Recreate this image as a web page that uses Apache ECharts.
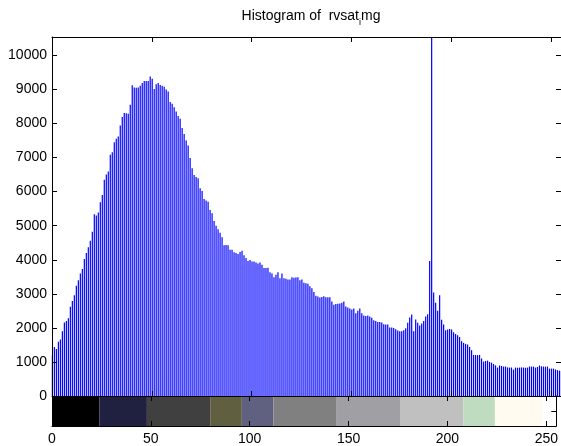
<!DOCTYPE html>
<html>
<head>
<meta charset="utf-8">
<script src="https://cdn.jsdelivr.net/npm/echarts@6/dist/echarts.min.js"></script>
<style>
  html, body { margin: 0; padding: 0; background: #fff; }
  #main { width: 561px; height: 446px; }
</style>
</head>
<body>
<div id="main"></div>
<script>
// histogram counts for grey levels 0..255
var counts = [
  1200,1440,1380,1590,1660,1900,2160,2200,2280,2620,2790,2960,3235,3400,3600,3730,
  4020,4200,4365,4560,4820,5335,5300,5390,5690,5900,6350,6500,6590,7080,7160,7450,
  7550,7620,7940,8190,8310,8300,8285,8550,9120,9060,9050,9060,9110,9190,9250,9250,
  9250,9380,9315,9010,9150,9190,9130,9110,9080,9000,8940,8630,8580,8480,8350,8220,
  8140,7865,7690,7500,7355,6990,6690,6490,6430,6390,6100,6020,5785,5740,5705,5460,
  5365,5140,5000,4895,4795,4660,4425,4430,4425,4295,4295,4220,4200,4170,4225,4265,
  4130,4050,3960,3990,3950,3950,3920,3890,3920,3855,3755,3760,3765,3630,3600,3490,
  3560,3630,3460,3600,3460,3440,3420,3420,3490,3470,3480,3490,3395,3420,3325,3310,
  3295,3225,3160,3050,2940,2920,2895,2910,2930,2900,2900,2900,2775,2680,2700,2710,
  2715,2735,2775,2630,2600,2570,2540,2570,2430,2500,2570,2430,2365,2350,2365,2335,
  2295,2225,2200,2170,2170,2160,2110,2100,2100,2010,2010,2000,1960,1920,1900,1900,
  1930,1990,2150,2305,2395,1900,2245,2150,2070,2130,2205,2335,2400,3960,12000,3040,
  2735,2500,2960,2235,2100,1930,1950,1970,1950,1870,1820,1780,1735,1610,1560,1530,
  1510,1440,1345,1205,1205,1200,1205,1100,1010,1030,1040,1000,980,940,900,835,
  895,880,865,865,840,835,835,775,835,830,835,840,835,830,835,865,
  865,865,835,850,895,870,865,860,865,805,805,805,780,760,745,735
];

// colormap strip under the histogram
var cbStart = [0, 24, 48, 80, 96, 112, 144, 176, 208, 224, 248];
var cbEnd   = [24, 48, 80, 96, 112, 144, 176, 208, 224, 248, 255];
var cbColor = ['#000000','#202040','#404040','#606040','#606080','#808080',
               '#a0a0a4','#c0c0c0','#c0dcc0','#fffbf0','#ffffff'];

var titleText = '{a|Histogram of  rvsat}{s|i}{a|mg}';

var font = 'Liberation Sans, Arial, sans-serif';
var myChart = echarts.init(document.getElementById('main'));

var barData = counts.map(function (c, i) { return [i, c]; });
var cbData = cbStart.map(function (s, i) { return [s, cbEnd[i], i]; });

// onZero off, otherwise the extra axes get pulled onto the zero line
function line(show) { return { show: show !== false, onZero: false, lineStyle: { color: '#000', width: 1 } }; }
function tick() { return { show: true, inside: true, length: 5, lineStyle: { color: '#000', width: 1 } }; }
function noLabel() { return { show: false }; }

var option = {
  animation: false,
  title: {
    text: titleText,
    left: 306,
    textAlign: 'center',
    top: 1,
    textStyle: {
      fontWeight: 'normal',
      rich: {
        a: { fontSize: 14, fontFamily: font, fontWeight: 'normal', color: '#000', lineHeight: 17, verticalAlign: 'middle' },
        s: { fontSize: 9, fontFamily: font, fontWeight: 'normal', color: '#000', lineHeight: 21, verticalAlign: 'bottom' }
      }
    }
  },
  grid: [
    { left: 52, right: -1, top: 37, height: 359 },
    { left: 52, right: -1, top: 396, height: 30 }
  ],
  xAxis: [
    { gridIndex: 0, type: 'value', min: 0, max: 255, interval: 50, position: 'bottom', z: 10,
      axisLine: line(false), axisTick: tick(), axisLabel: noLabel(), splitLine: { show: false } },
    { gridIndex: 0, type: 'value', min: 0, max: 255, interval: 50, position: 'top', z: 10,
      axisLine: line(), axisTick: tick(), axisLabel: noLabel(), splitLine: { show: false } },
    { gridIndex: 1, type: 'value', min: 0, max: 255, interval: 50, position: 'bottom', z: 10,
      axisLine: line(), axisTick: tick(), splitLine: { show: false },
      axisLabel: { margin: 6, fontSize: 14, fontFamily: font, color: '#000',
        formatter: function (v) { return v % 50 === 0 ? String(v) : ''; } } },
    { gridIndex: 1, type: 'value', min: 0, max: 255, interval: 50, position: 'top', z: 10,
      axisLine: line(), axisTick: tick(), axisLabel: noLabel(), splitLine: { show: false } }
  ],
  yAxis: [
    { gridIndex: 0, type: 'value', min: 0, max: 10540, interval: 1000, position: 'left', z: 10,
      axisLine: line(), axisTick: tick(), splitLine: { show: false },
      axisLabel: { margin: 5, fontSize: 14, fontFamily: font, color: '#000',
        formatter: function (v) { return v % 1000 === 0 ? String(v) : ''; } } },
    { gridIndex: 0, type: 'value', min: 0, max: 10540, interval: 1000, position: 'right', z: 10,
      axisLine: line(), axisTick: tick(), axisLabel: noLabel(), splitLine: { show: false } },
    { gridIndex: 1, type: 'value', min: 0, max: 2, interval: 1, position: 'left', z: 10,
      axisLine: line(), axisTick: tick(), axisLabel: noLabel(), splitLine: { show: false } },
    { gridIndex: 1, type: 'value', min: 0, max: 2, interval: 1, position: 'right', z: 10,
      axisLine: line(), axisTick: tick(), axisLabel: noLabel(), splitLine: { show: false } }
  ],
  series: [
    {
      // histogram stems: a full blue pixel with a faint left fringe
      type: 'custom',
      xAxisIndex: 0,
      yAxisIndex: 0,
      data: barData,
      renderItem: function (params, api) {
        var top = api.coord([api.value(0), api.value(1)]);
        var base = api.coord([api.value(0), 0]);
        var y = Math.max(top[1], params.coordSys.y);
        return {
          type: 'rect',
          shape: { x: top[0] - 0.2, y: y, width: 1.2, height: base[1] - y },
          style: { fill: '#0000ff' }
        };
      }
    },
    {
      type: 'custom',
      xAxisIndex: 2,
      yAxisIndex: 2,
      data: cbData,
      z: 1,
      renderItem: function (params, api) {
        var p0 = api.coord([api.value(0), 2]);
        var p1 = api.coord([api.value(1), 0]);
        return {
          type: 'rect',
          shape: { x: p0[0], y: p0[1], width: p1[0] - p0[0], height: p1[1] - p0[1] },
          style: { fill: cbColor[api.value(2)] }
        };
      }
    }
  ]
};

myChart.setOption(option);
</script>
</body>
</html>
